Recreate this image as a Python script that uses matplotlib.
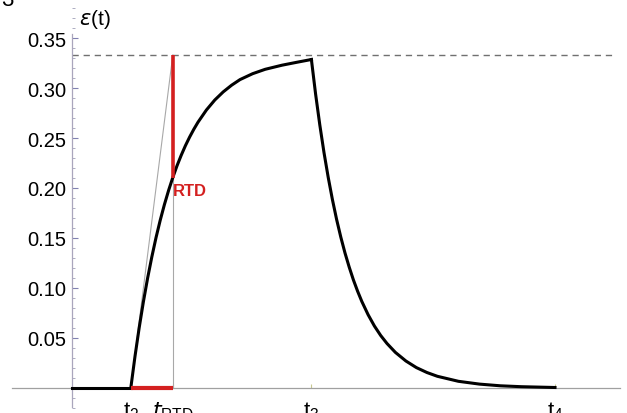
import matplotlib
matplotlib.use("Agg")
import matplotlib.pyplot as plt
from matplotlib.ticker import MultipleLocator

# ---- data ----
t2, t_rtd, t3, t4 = 1.4, 2.4, 5.7, 11.5
eps_sat = 0.333
eps_at_rtd = 0.2105

flat_t = [0.0, 1.4]
flat_eps = [0.0, 0.0]

rise_t = [1.4, 1.5, 1.6, 1.7, 1.8, 1.9, 2.0, 2.1, 2.2, 2.3, 2.4, 2.5, 2.6,
          2.7, 2.8, 2.9, 3.0, 3.2, 3.4, 3.6, 3.8, 4.0, 4.3, 4.6, 5.0, 5.35, 5.7]
rise_eps = [0.0, 0.0317, 0.0604, 0.0863, 0.1098, 0.1310, 0.1503, 0.1677,
            0.1834, 0.1976, 0.2105, 0.2222, 0.2327, 0.2423, 0.2509, 0.2587,
            0.2658, 0.2780, 0.2880, 0.2961, 0.3028, 0.3084, 0.3143, 0.3187,
            0.3228, 0.3257, 0.3285]

decay_t = [5.7, 5.8, 5.9, 6.0, 6.1, 6.2, 6.3, 6.4, 6.5, 6.6, 6.7, 6.8, 6.9,
           7.05, 7.2, 7.35, 7.5, 7.7, 7.95, 8.2, 8.45, 8.7, 9.2, 9.7, 10.2,
           10.7, 11.5]
decay_eps = [0.3285, 0.2939, 0.2631, 0.2354, 0.2107, 0.1885, 0.1686, 0.1509,
             0.1350, 0.1209, 0.1081, 0.0968, 0.0866, 0.0733, 0.0620, 0.0525,
             0.0445, 0.0356, 0.0270, 0.0204, 0.0155, 0.0117, 0.0067, 0.0039,
             0.0022, 0.0013, 0.0005]

y_ticks = [0.05, 0.10, 0.15, 0.20, 0.25, 0.30, 0.35]
y_ticklabels = ["0.05", "0.10", "0.15", "0.20", "0.25", "0.30", "0.35"]
x_ticks = [t2, t_rtd, t3, t4]
x_ticklabels = [r"$\mathregular{t_2}$", r"$t_{\mathregular{RTD}}$",
                r"$\mathregular{t_3}$", r"$\mathregular{t_4}$"]

# ---- figure ----
fig = plt.figure(figsize=(6.27, 4.14), dpi=100)
ax = fig.add_axes([0, 0, 1, 1])
ax.set_xlim(-72 / 42, 555 / 42)
ax.set_ylim(-0.025, 0.389)
ax.patch.set_alpha(0)

axis_col = "#aaa6bc"
for s in ("top", "right"):
    ax.spines[s].set_visible(False)
ax.spines["left"].set_position(("data", 0))
ax.spines["bottom"].set_position(("data", 0))
ax.spines["left"].set_bounds(-0.019, 0.354)
ax.spines["bottom"].set_bounds(-1.43, 13.05)
ax.spines["left"].set_color(axis_col)
ax.spines["bottom"].set_color("#a0a0a0")
ax.spines["left"].set_linewidth(0.9)
ax.spines["bottom"].set_linewidth(0.9)

ax.set_yticks(y_ticks)
ax.set_yticklabels(y_ticklabels, fontsize=14.5, family="Liberation Sans")
ax.yaxis.set_minor_locator(MultipleLocator(0.01))
ax.tick_params(axis="y", which="major", direction="in", length=4, width=0.8,
               color="#8080b0", pad=4)
ax.tick_params(axis="y", which="minor", direction="in", length=2, width=0.6,
               color="#a0a0b8")

ax.set_xticks(x_ticks)
ax.set_xticklabels(x_ticklabels, fontsize=16, family="Liberation Sans")
ax.tick_params(axis="x", which="major", direction="in", length=3, width=0.8,
               color="#c8c890", pad=8)

# reference lines
ax.plot([0, 12.9], [eps_sat, eps_sat], color="#707070", lw=1.0,
        dashes=(4.5, 3.5), zorder=1)
ax.plot([t2, t_rtd], [0, eps_sat], color="#a8a8a8", lw=0.8, zorder=2)
ax.plot([t_rtd, t_rtd], [0, eps_sat], color="#a8a8a8", lw=0.8, zorder=2)

# curve
kw = dict(color="black", lw=2.2, zorder=3, solid_joinstyle="round")
ax.plot(flat_t, flat_eps, **kw)
ax.plot(rise_t, rise_eps, **kw)
ax.plot(decay_t, decay_eps, **kw)

# RTD marks
red = "#d42020"
ax.plot([t_rtd, t_rtd], [eps_sat, eps_at_rtd], color=red, lw=2.6, zorder=4,
        solid_capstyle="butt")
ax.plot([t2, t_rtd], [0, 0], color=red, lw=3, zorder=4, solid_capstyle="butt")
ax.text(t_rtd, 0.198, "RTD", color=red, fontsize=12, fontweight="bold",
        family="Liberation Sans", ha="left", va="center")

# axis label
ax.text(0.55, 0.370, r"$\varepsilon$(t)", fontsize=15, family="Liberation Sans",
        ha="center", va="center")

# page fragment in corner
fig.text(0.002, 1 - 11 / 414, "3", fontsize=16, family="Liberation Sans",
         ha="left", va="bottom")

fig.savefig("out.png", dpi=100)
